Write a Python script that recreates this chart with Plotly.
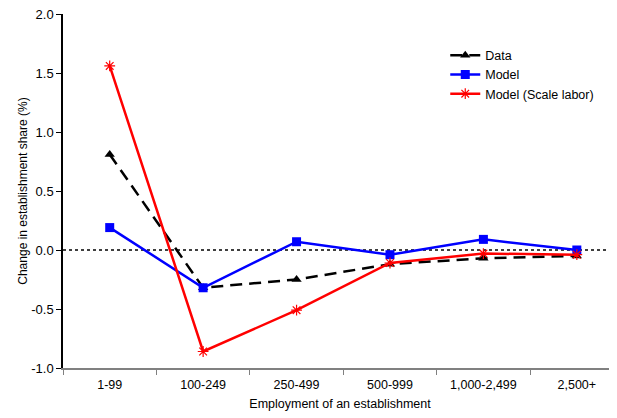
import plotly.graph_objects as go

categories = ["1-99", "100-249", "250-499", "500-999", "1,000-2,499", "2,500+"]
data_vals = [0.81, -0.32, -0.25, -0.12, -0.07, -0.05]
model_vals = [0.19, -0.32, 0.07, -0.04, 0.09, 0.00]
scale_vals = [1.56, -0.86, -0.51, -0.11, -0.03, -0.04]
y_ticks = [-1.0, -0.5, 0.0, 0.5, 1.0, 1.5, 2.0]

fig = go.Figure()
fig.add_trace(go.Scatter(
    x=categories, y=data_vals, name="Data", mode="lines+markers",
    line=dict(color="black", width=2.5, dash="12px,7px"),
    marker=dict(symbol="triangle-up", size=9, color="black"),
))
fig.add_trace(go.Scatter(
    x=categories, y=model_vals, name="Model", mode="lines+markers",
    line=dict(color="#0000FF", width=2.5),
    marker=dict(symbol="square", size=9, color="#0000FF"),
))
fig.add_trace(go.Scatter(
    x=categories, y=scale_vals, name="Model (Scale labor)", mode="lines+markers",
    line=dict(color="#FF0000", width=2.5),
    marker=dict(symbol="asterisk-open", size=9, color="#FF0000",
                line=dict(color="#FF0000", width=1.2)),
))

fig.add_shape(type="line", xref="paper", yref="y", x0=0, x1=0.991, y0=0, y1=0,
              line=dict(color="black", width=1.3, dash="dot"), layer="below")

# The page body has an 8px default margin, so the figure is sized to fit the window.
fig.update_layout(
    width=609, height=410,
    margin=dict(l=55, r=0, t=6, b=50, autoexpand=False),
    paper_bgcolor="white", plot_bgcolor="white",
    font=dict(family="Liberation Sans, Arial, sans-serif", color="black", size=12),
    showlegend=True,
    legend=dict(x=0.69, y=0.925, xanchor="left", yanchor="top",
                bgcolor="rgba(0,0,0,0)", font=dict(size=12.5), itemwidth=30,
                tracegroupgap=0),
    xaxis=dict(
        type="category", range=[-0.5, 5.43],
        showline=True, linecolor="#808080", linewidth=1.5,
        ticks="outside", tickson="boundaries", ticklen=5, tickcolor="#808080",
        showgrid=False, zeroline=False,
        tickfont=dict(size=12.5), ticklabelstandoff=4, ticklabeloverflow="allow",
        title=dict(text="Employment of an establishment", font=dict(size=12.5), standoff=8),
    ),
    yaxis=dict(
        range=[-1.0, 2.0], tickvals=y_ticks, ticktext=[f"{v:.1f}" for v in y_ticks],
        showline=True, linecolor="black", linewidth=1.5,
        ticks="outside", ticklen=5, tickcolor="black",
        showgrid=False, zeroline=False, ticklabeloverflow="allow",
        tickfont=dict(size=13),
        title=dict(text="Change in establishment share (%)", font=dict(size=12), standoff=1),
    ),
)

fig.write_html("out.html")
